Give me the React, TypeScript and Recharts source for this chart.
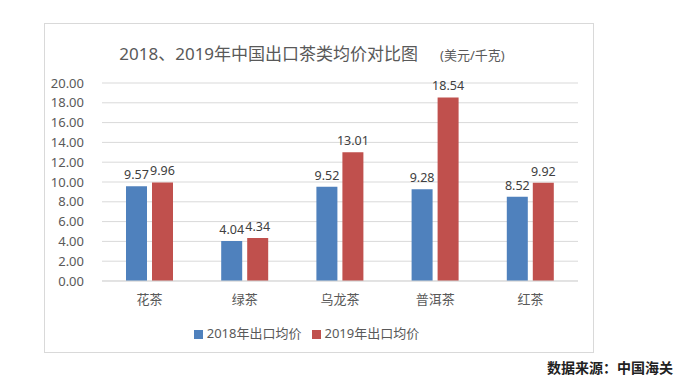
import { Bar, BarChart, CartesianGrid, LabelList, Legend, XAxis, YAxis } from "recharts";

const CATEGORIES = ["花茶", "绿茶", "乌龙茶", "普洱茶", "红茶"];
const PRICE_2018 = [9.57, 4.04, 9.52, 9.28, 8.52];
const PRICE_2019 = [9.96, 4.34, 13.01, 18.54, 9.92];
const Y_TICKS = [0, 2, 4, 6, 8, 10, 12, 14, 16, 18, 20];

const FONT = "'Noto Sans', 'Noto Sans CJK SC', sans-serif";
const BLUE = "#4F81BD";
const RED = "#C0504D";
const MUTED = "#595959";

const data = CATEGORIES.map((name, i) => ({
  name,
  y2018: PRICE_2018[i],
  y2019: PRICE_2019[i],
}));

export default function App() {
  return (
    <div
      style={{
        position: "absolute",
        left: 0,
        top: 0,
        width: 678,
        height: 381,
        background: "#fff",
        fontFamily: FONT,
      }}
    >
      <div
        style={{
          position: "absolute",
          left: 44,
          top: 23,
          width: 550,
          height: 330,
          border: "1px solid #D9D9D9",
          boxSizing: "border-box",
        }}
      >
        <div
          style={{
            position: "absolute",
            left: -8,
            top: 16,
            width: 550,
            textAlign: "center",
            color: MUTED,
            fontSize: 17,
            whiteSpace: "nowrap",
          }}
        >
          2018、2019年中国出口茶类均价对比图
          <span style={{ fontSize: 13, marginLeft: 22 }}>(美元/千克)</span>
        </div>
        <BarChart
          width={548}
          height={328}
          data={data}
          barSize={21}
          barGap={5}
          margin={{ top: 59, right: 15, bottom: 0, left: 0 }}
        >
          <CartesianGrid stroke="#D9D9D9" vertical={false} />
          <XAxis
            dataKey="name"
            height={30}
            tick={{ fontSize: 13, fill: MUTED, fontFamily: FONT }}
            tickLine={false}
            axisLine={{ stroke: "#D9D9D9" }}
            tickMargin={8}
          />
          <YAxis
            width={57}
            domain={[0, 20]}
            ticks={Y_TICKS}
            interval={0}
            tick={{ fontSize: 13, fill: MUTED, fontFamily: FONT }}
            tickFormatter={(v: number) => v.toFixed(2)}
            axisLine={false}
            tickLine={false}
            tickMargin={12}
          />
          <Legend
            verticalAlign="bottom"
            align="center"
            iconType="square"
            iconSize={9}
            wrapperStyle={{
              height: 41,
              paddingTop: 12,
              boxSizing: "border-box",
              fontSize: 13,
              color: MUTED,
              fontFamily: FONT,
            }}
            formatter={(value) => <span style={{ color: MUTED }}>{value}</span>}
          />
          <Bar dataKey="y2018" name="2018年出口均价" fill={BLUE} isAnimationActive={false}>
            <LabelList dataKey="y2018" position="top" offset={7} fill="#404040" fontSize={12.5} fontFamily={FONT} />
          </Bar>
          <Bar dataKey="y2019" name="2019年出口均价" fill={RED} isAnimationActive={false}>
            <LabelList dataKey="y2019" position="top" offset={7} fill="#404040" fontSize={12.5} fontFamily={FONT} />
          </Bar>
        </BarChart>
      </div>
      <div
        style={{
          position: "absolute",
          left: 547,
          top: 357,
          fontSize: 14,
          fontWeight: "bold",
          color: "#222",
          whiteSpace: "nowrap",
        }}
      >
        数据来源：中国海关
      </div>
    </div>
  );
}
